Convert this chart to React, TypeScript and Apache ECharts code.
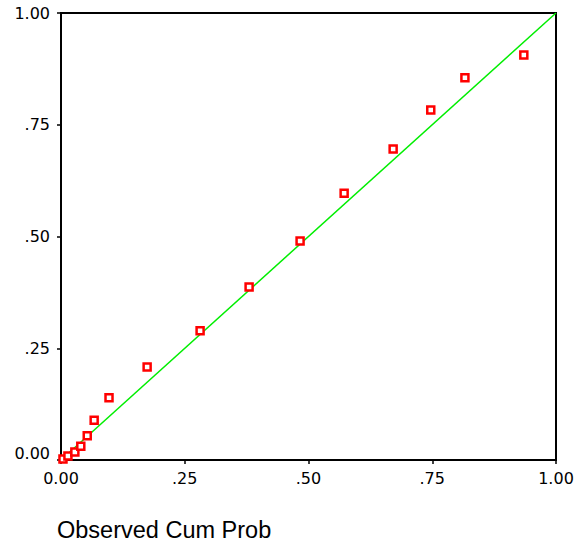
import React, { useEffect, useRef } from "react";
import * as echarts from "echarts";

const observed = [0.004, 0.014, 0.028, 0.04, 0.053, 0.067, 0.097, 0.174, 0.281, 0.38, 0.483, 0.572, 0.671, 0.747, 0.816, 0.935];
const expected = [0.002, 0.009, 0.018, 0.031, 0.054, 0.089, 0.139, 0.208, 0.289, 0.387, 0.49, 0.597, 0.696, 0.783, 0.855, 0.906];
const refLine = [[0, 0], [1, 1]];
const tickLabels = ["0.00", ".25", ".50", ".75", "1.00"];
const tickValues = [0, 0.25, 0.5, 0.75, 1];
const xTitle = "Observed Cum Prob";

export default function App() {
  const ref = useRef<HTMLDivElement>(null);
  useEffect(() => {
    if (!ref.current) return;
    const chart = echarts.init(ref.current, null, { renderer: "svg" });
    const fmt = (v: number) => {
      const i = tickValues.findIndex((t) => Math.abs(t - v) < 1e-9);
      return i >= 0 ? tickLabels[i] : "";
    };
    chart.setOption({
      animation: false,
      backgroundColor: "#fff",
      grid: { left: 61, top: 13, width: 495, height: 447, show: true, borderColor: "#000", borderWidth: 2, backgroundColor: "transparent" },
      xAxis: {
        type: "value", min: 0, max: 1, interval: 0.25,
        axisLine: { show: true, onZero: false, lineStyle: { color: "#000", width: 2 } },
        axisTick: { show: true, length: 4, lineStyle: { color: "#000", width: 1.5 } },
        splitLine: { show: false },
        axisLabel: { formatter: fmt, margin: 10, color: "#000", fontFamily: "DejaVu Sans", fontSize: 16 },
      },
      yAxis: {
        type: "value", min: 0, max: 1, interval: 0.25,
        axisLine: { show: true, onZero: false, lineStyle: { color: "#000", width: 2 } },
        axisTick: { show: true, length: 4, lineStyle: { color: "#000", width: 1.5 } },
        splitLine: { show: false },
        axisLabel: {
          formatter: (v: number) => (v === 0 ? "{z|" + fmt(v) + "}" : fmt(v)),
          margin: 11, color: "#000", fontFamily: "DejaVu Sans", fontSize: 16,
          rich: { z: { fontFamily: "DejaVu Sans", fontSize: 16, color: "#000", padding: [0, 0, 14, 0] } },
        },
      },
      graphic: [
        { type: "text", left: 57, top: 518, style: { text: xTitle, fontFamily: "Liberation Sans", fontSize: 23.5, fill: "#000" } },
      ],
      series: [
        { type: "line", data: refLine, symbol: "none", lineStyle: { color: "#00ee00", width: 1.5 }, z: 2 },
        {
          type: "scatter",
          data: observed.map((x, i) => [x, expected[i]]),
          symbol: "rect", symbolSize: 7,
          itemStyle: { color: "#fff", borderColor: "#ff0000", borderWidth: 2.5, opacity: 1 },
          z: 3,
        },
      ],
    });
    return () => chart.dispose();
  }, []);
  return <div ref={ref} style={{ position: "fixed", left: 0, top: 0, width: 579, height: 549 }} />;
}
